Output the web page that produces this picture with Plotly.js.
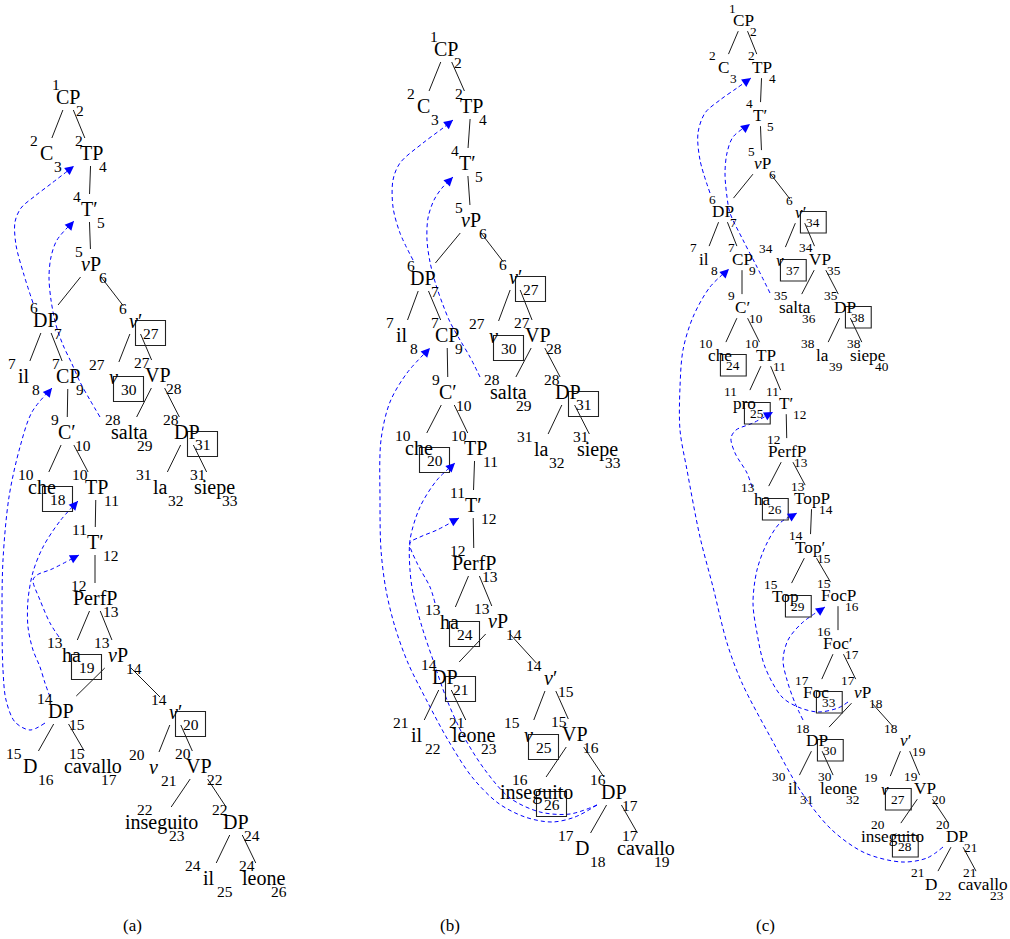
<!DOCTYPE html>
<html><head><meta charset="utf-8">
<script src="https://cdn.plot.ly/plotly-3.0.1.min.js"></script>
<style>html,body{margin:0;padding:0;background:#fff}#chart{width:1010px;height:939px}</style>
</head><body><div id="chart"></div>
<script>
// ---------- Tree (a) ----------
const aLabels=['CP','C','TP','T′','<i>v</i>P','DP','<i>v</i>′','il','CP','<i>v</i>','VP','C′','salta','DP','che','TP','la','siepe','T′','PerfP','ha','<i>v</i>P','DP','<i>v</i>′','D','cavallo','<i>v</i>','VP','inseguito','DP','il','leone'];
const aX=[68,46,91,89,91,46,135,24,68,113,158,67,129,187,42,96,160,214,95,95,71,118,61,175,30,93,153,199,161,236,209,263];
const aY=[97,153,153,209,264,320,321,376,376,377,375,432,432,432,487,487,487,487,542,598,655,655,711,712,766,766,767,766,822,822,878,878];
const aSup=[1,2,2,4,5,6,6,7,7,27,27,9,28,28,10,10,31,31,11,12,13,13,14,14,15,15,20,20,22,22,24,24];
const aSub=[2,3,4,5,6,7,null,8,9,null,28,10,29,null,null,11,32,33,12,13,null,14,15,null,16,17,21,22,23,24,25,26];
const aBoxed=[[6,27],[9,30],[13,31],[14,18],[20,19],[23,20]];
const aParent=[-1,0,0,2,3,4,4,5,5,6,6,8,10,10,11,11,13,13,15,18,19,19,21,21,22,22,23,23,27,27,29,29];
const aMoves=[
 [[33,303],[24,275],[16,245],[15,222],[21,208],[35,196],[52,183],[74,166]],
 [[100,417],[90,400],[80,382],[72,364],[63,345],[56,325],[51,300],[49,277],[51,257],[57,240],[74,221]],
 [[45,723],[30,730],[15,722],[6,700],[3,670],[2,620],[3,560],[9,497],[20,447],[32,412],[52,388]],
 [[50,697],[45,683],[40,667],[33,650],[28,627],[28,600],[33,572],[43,547],[60,521],[78,501]],
 [[59,637],[50,623],[40,600],[33,580],[37,575],[52,569],[79,555]]
];
// ---------- Tree (b) ----------
const bLabels=['CP','C','TP','T′','<i>v</i>P','DP','<i>v</i>′','il','CP','<i>v</i>','VP','C′','salta','DP','che','TP','la','siepe','T′','PerfP','ha','<i>v</i>P','DP','<i>v</i>′','il','leone','<i>v</i>','VP','inseguito','DP','D','cavallo'];
const bX=[446,423,471,467,471,423,515,402,447,493,538,448,508,568,419,475,541,597,473,474,449,498,445,550,417,473,528,575,536,614,582,646];
const bY=[49,106,106,163,220,278,277,335,335,336,335,392,392,392,448,448,449,449,505,563,622,621,677,678,735,735,735,734,792,792,848,848];
const bSup=[1,2,2,4,5,6,6,7,7,27,27,9,28,28,10,10,31,31,11,12,13,13,14,14,21,21,15,15,16,16,17,17];
const bSub=[2,3,4,5,6,7,null,8,9,null,28,10,29,null,null,11,32,33,12,13,null,14,null,15,22,23,null,16,null,17,18,19];
const bBoxed=[[6,27],[9,30],[13,31],[14,20],[20,24],[22,21],[26,25],[28,26]];
const bParent=[-1,0,0,2,3,4,4,5,5,6,6,8,10,10,11,11,13,13,15,18,19,19,21,21,22,22,23,23,27,27,29,29];
const bMoves=[
 [[413,260],[400,233],[393,207],[393,180],[400,163],[423,143],[443,128],[453,120]],
 [[480,377],[470,357],[460,340],[450,322],[443,305],[436,285],[430,262],[427,240],[428,218],[434,200],[442,188],[453,177]],
 [[597,805],[575,817],[552,822],[525,817],[498,803],[472,777],[448,740],[428,703],[408,663],[395,627],[386,590],[381,550],[380,500],[381,440],[390,402],[407,373],[430,348]],
 [[597,805],[570,814],[540,812],[510,798],[485,770],[463,735],[447,700],[433,660],[422,627],[413,593],[410,570],[410,540],[420,507],[437,480],[455,463]],
 [[435,603],[430,587],[417,563],[410,543],[420,537],[437,530],[459,518]]
];
// ---------- Tree (c) ----------
const cLabels=['CP','C','TP','T′','<i>v</i>P','DP','<i>v</i>′','il','CP','<i>v</i>','VP','C′','salta','DP','che','TP','la','siepe','pro','T′','PerfP','ha','TopP','Top′','Top','FocP','Foc′','Foc','<i>v</i>P','DP','<i>v</i>′','il','leone','<i>v</i>','VP','inseguito','DP','D','cavallo'];
const cX=[743,723,762,760,762,723,800,704,742,780,820,742,795,845,720,766,822,868,744,786,787,762,812,810,785,838,838,816,862,817,905,793,839,885,925,892,957,931,983];
const cY=[20,67,67,115,163,211,212,259,259,260,259,307,307,307,355,355,355,355,403,403,451,499,498,547,596,595,643,692,692,740,740,788,788,789,788,836,836,884,884];
const cSup=[1,2,2,4,5,6,6,7,7,34,34,9,35,35,10,10,38,38,11,11,12,13,13,14,15,15,16,17,17,18,18,30,30,19,19,20,20,21,21];
const cSub=[2,3,4,5,6,7,null,8,9,null,35,10,36,null,null,11,39,40,null,12,13,null,14,15,null,16,17,null,18,null,19,31,32,null,20,null,21,22,23];
const cBoxed=[[6,34],[9,37],[13,38],[14,24],[18,25],[21,26],[24,29],[27,33],[29,30],[33,27],[35,28]];
const cParent=[-1,0,0,2,3,4,4,5,5,6,6,8,10,10,11,11,13,13,15,15,19,20,20,22,23,23,25,26,26,28,28,29,29,30,30,34,34,36,36];
const cMoves=[
 [[710,193],[700,160],[698,133],[705,113],[720,100],[737,88],[751,78]],
 [[770,293],[757,267],[743,240],[730,213],[727,197],[725,173],[727,153],[733,137],[750,124]],
 [[943,847],[927,858],[902,862],[865,853],[832,830],[802,793],[772,740],[742,683],[727,643],[713,587],[700,537],[687,470],[680,430],[680,387],[683,350],[693,317],[710,287],[729,269]],
 [[848,702],[838,708],[818,712],[798,707],[782,697],[765,667],[757,633],[753,603],[757,570],[767,543],[780,523],[797,513]],
 [[803,720],[795,703],[787,680],[783,660],[788,640],[802,623],[825,607]],
 [[752,487],[747,473],[735,453],[731,438],[736,430],[753,423],[773,412]]
];
const captions=['(a)','(b)','(c)'];
const captionX=[132,450,765];
const captionY=[925,925,925];

const FONT='"Liberation Serif","Times New Roman",Times,serif';
const trees=[
 {lab:aLabels,x:aX,y:aY,sup:aSup,sub:aSub,boxed:aBoxed,par:aParent,moves:aMoves,s:1},
 {lab:bLabels,x:bX,y:bY,sup:bSup,sub:bSub,boxed:bBoxed,par:bParent,moves:bMoves,s:1},
 {lab:cLabels,x:cX,y:cY,sup:cSup,sub:cSub,boxed:cBoxed,par:cParent,moves:cMoves,s:0.86}
];
const traces=[], annotations=[], shapes=[];
function ann(x,y,text,size,xanchor){
  return {x:x,y:y,xref:'x',yref:'y',text:text,showarrow:false,xanchor:xanchor||'center',yanchor:'middle',
    borderpad:0,borderwidth:0,font:{family:FONT,size:size,color:'#000'}};
}
trees.forEach(t=>{
  const s=t.s, F=20*s, f=15.5*s;
  const ex=[], ey=[];
  t.par.forEach((p,i)=>{
    if(p<0) return;
    const x0=t.x[p], y0=t.y[p], x1=t.x[i], y1=t.y[i], dy=y1-y0;
    const t0=13*s/dy, t1=1-15*s/dy;
    ex.push(x0+(x1-x0)*t0, x0+(x1-x0)*t1, null);
    ey.push(y0+dy*t0, y0+dy*t1, null);
  });
  traces.push({x:ex,y:ey,mode:'lines',line:{color:'#000',width:0.9},hoverinfo:'skip'});
  t.lab.forEach((l,i)=>{
    annotations.push(ann(t.x[i],t.y[i],l,F,'center'));
    if(t.sup[i]!=null) annotations.push(ann(t.x[i]-8*s,t.y[i]-13*s,String(t.sup[i]),f,'right'));
    if(t.sub[i]!=null) annotations.push(ann(t.x[i]+8*s,t.y[i]+13*s,String(t.sub[i]),f,'left'));
  });
  t.boxed.forEach(([i,n])=>{
    const cx=t.x[i]+15.5*s, cy=t.y[i]+12*s;
    shapes.push({type:'rect',xref:'x',yref:'y',x0:cx-15*s,x1:cx+15*s,y0:cy-12.5*s,y1:cy+12.5*s,line:{color:'#222',width:1.1}});
    annotations.push(ann(cx,cy+0.5,String(n),f,'center'));
  });
  t.moves.forEach(m=>{
    traces.push({x:m.map(p=>p[0]),y:m.map(p=>p[1]),mode:'lines',
      line:{color:'#0000ff',width:1,dash:'4px,3px',shape:'spline',smoothing:0.9},hoverinfo:'skip'});
    const tip=m[m.length-1], prev=m[m.length-2];
    const dx=tip[0]-prev[0], dy=tip[1]-prev[1], L=Math.hypot(dx,dy);
    annotations.push({x:tip[0],y:tip[1],ax:tip[0]-9*dx/L,ay:tip[1]-9*dy/L,xref:'x',yref:'y',axref:'x',ayref:'y',
      text:'',showarrow:true,arrowhead:2,arrowsize:1.8,arrowwidth:1,arrowcolor:'#0000ff',standoff:0});
  });
});
captions.forEach((c,i)=>annotations.push(ann(captionX[i],captionY[i],c,17,'center')));

const layout={width:1010,height:939,margin:{l:0,r:0,t:0,b:0},paper_bgcolor:'#fff',plot_bgcolor:'#fff',
  showlegend:false,
  xaxis:{range:[0,1010],visible:false,fixedrange:true},
  yaxis:{range:[939,0],visible:false,fixedrange:true},
  annotations:annotations,shapes:shapes};
Plotly.newPlot('chart',traces,layout,{staticPlot:true,displayModeBar:false});
</script>
</body></html>
